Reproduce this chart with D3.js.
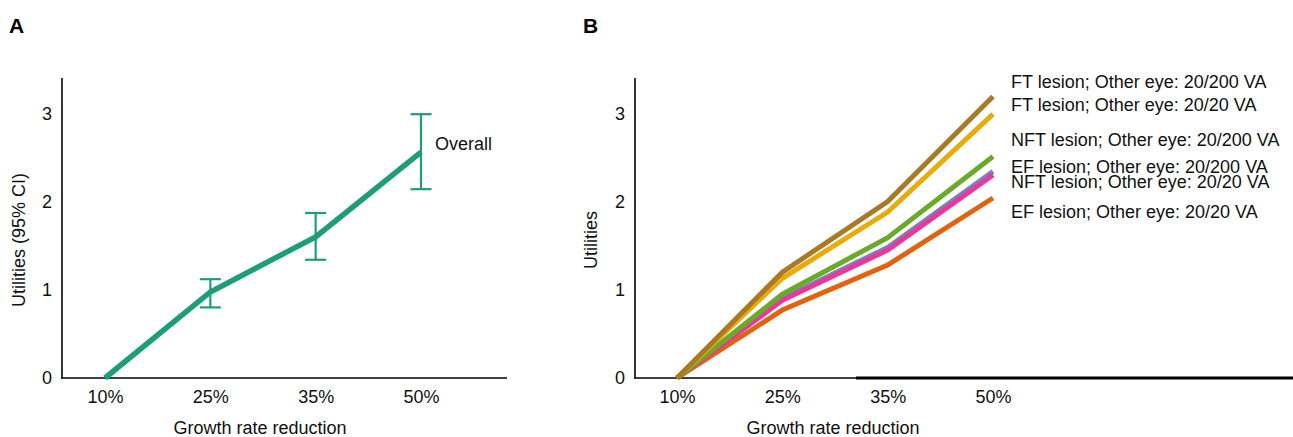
<!DOCTYPE html>
<html>
<head>
<meta charset="utf-8">
<script src="https://cdn.jsdelivr.net/npm/d3@7"></script>
<style>
  html, body { margin: 0; padding: 0; background: #fff; }
  svg { display: block; font-family: "Liberation Sans", Arial, sans-serif; }
</style>
</head>
<body>
<svg id="chart" width="1293" height="437"></svg>
<script>
// ---- data ----
const categories = ["10%", "25%", "35%", "50%"];
const yTicks = [0, 1, 2, 3];

const overall = [0, 0.975, 1.60, 2.56];
const overallLow = [null, 0.80, 1.34, 2.14];
const overallHigh = [null, 1.12, 1.87, 2.99];

const seriesNames = [
  "EF lesion; Other eye: 20/20 VA",
  "NFT lesion; Other eye: 20/200 VA",
  "NFT lesion; Other eye: 20/20 VA",
  "EF lesion; Other eye: 20/200 VA",
  "FT lesion; Other eye: 20/20 VA",
  "FT lesion; Other eye: 20/200 VA"
];
const efOther2020 = [0, 0.77, 1.28, 2.04];
const nftOther20200 = [0, 0.90, 1.48, 2.34];
const nftOther2020 = [0, 0.88, 1.45, 2.30];
const efOther20200 = [0, 0.95, 1.59, 2.51];
const ftOther2020 = [0, 1.13, 1.88, 2.99];
const ftOther20200 = [0, 1.20, 2.00, 3.19];
const seriesValues = [efOther2020, nftOther20200, nftOther2020, efOther20200, ftOther2020, ftOther20200];
const seriesColors = ["#E0640F", "#7B7FC0", "#E8389A", "#6AAA2A", "#E8AB0C", "#A87A24"];

// label stack order (top to bottom) and their vertical anchors in data units
const labelOrder = [
  "FT lesion; Other eye: 20/200 VA",
  "FT lesion; Other eye: 20/20 VA",
  "NFT lesion; Other eye: 20/200 VA",
  "EF lesion; Other eye: 20/200 VA",
  "NFT lesion; Other eye: 20/20 VA",
  "EF lesion; Other eye: 20/20 VA"
];
const labelLevels = [3.36, 3.10, 2.70, 2.40, 2.22, 1.88];

// ---- drawing ----
const svg = d3.select("#chart");
const FS = 18;
const y = d3.scaleLinear().domain([0, 3.4]).range([378, 78]);

function panel(axisX, axisEnd, xRange, thickFrom) {
  const g = svg.append("g");
  const x = d3.scalePoint().domain(categories).range(xRange);
  // y tick labels
  const ya = d3.axisLeft(y).tickValues(yTicks).tickSize(0).tickPadding(10).tickFormat(d3.format("d"));
  g.append("g").attr("transform", `translate(${axisX},0)`).call(ya)
    .call(s => s.select(".domain").remove())
    .call(s => s.selectAll("text").attr("font-size", FS).attr("font-family", "Liberation Sans, Arial, sans-serif").attr("fill", "#111"));
  // x tick labels
  const xa = d3.axisBottom(x).tickSize(0).tickPadding(12);
  g.append("g").attr("transform", `translate(0,378)`).call(xa)
    .call(s => s.select(".domain").remove())
    .call(s => s.selectAll("text").attr("font-size", FS).attr("font-family", "Liberation Sans, Arial, sans-serif").attr("fill", "#111"));
  // axis lines
  g.append("line").attr("x1", axisX).attr("x2", axisX).attr("y1", y(3.4)).attr("y2", 378.5)
    .attr("stroke", "#000").attr("stroke-width", 1.6);
  g.append("line").attr("x1", axisX - 0.8).attr("x2", axisEnd).attr("y1", 378).attr("y2", 378)
    .attr("stroke", "#000").attr("stroke-width", 1.6);
  if (thickFrom) {
    g.append("line").attr("x1", thickFrom).attr("x2", axisEnd).attr("y1", 378).attr("y2", 378)
      .attr("stroke", "#000").attr("stroke-width", 3);
  }
  return { g, x };
}

// Panel A
const A = panel(62, 507, [105, 421]);
const lineA = d3.line().x((d, i) => A.x(categories[i])).y(d => y(d));
A.g.append("path").datum(overall).attr("d", lineA)
  .attr("fill", "none").attr("stroke", "#1E9E78").attr("stroke-width", 5.5);
const ci = categories.map((c, i) => ({ c, lo: overallLow[i], hi: overallHigh[i] })).filter(d => d.lo != null);
const eb = A.g.selectAll(".eb").data(ci).enter().append("g");
eb.append("line").attr("x1", d => A.x(d.c)).attr("x2", d => A.x(d.c)).attr("y1", d => y(d.lo)).attr("y2", d => y(d.hi))
  .attr("stroke", "#1E9E78").attr("stroke-width", 2.2);
eb.append("line").attr("x1", d => A.x(d.c) - 10.5).attr("x2", d => A.x(d.c) + 10.5).attr("y1", d => y(d.lo)).attr("y2", d => y(d.lo))
  .attr("stroke", "#1E9E78").attr("stroke-width", 2.2);
eb.append("line").attr("x1", d => A.x(d.c) - 10.5).attr("x2", d => A.x(d.c) + 10.5).attr("y1", d => y(d.hi)).attr("y2", d => y(d.hi))
  .attr("stroke", "#1E9E78").attr("stroke-width", 2.2);
A.g.append("text").attr("x", A.x("50%") + 14).attr("y", y(overall[3]) - 8).attr("dy", "0.35em")
  .attr("font-size", FS).attr("fill", "#111").text("Overall");
A.g.append("text").attr("transform", "translate(19,240) rotate(-90)").attr("text-anchor", "middle").attr("dy", "0.35em")
  .attr("font-size", FS).attr("fill", "#111").text("Utilities (95% CI)");
A.g.append("text").attr("x", 260).attr("y", 428).attr("text-anchor", "middle").attr("dy", "0.35em")
  .attr("font-size", FS).attr("fill", "#111").text("Growth rate reduction");
svg.append("text").attr("x", 9).attr("y", 33).attr("font-size", 21).attr("font-weight", "bold").attr("fill", "#000").text("A");

// Panel B
const B = panel(635, 1293, [677, 993], 856);
const lineB = d3.line().x((d, i) => B.x(categories[i])).y(d => y(d));
B.g.selectAll(".ser").data(seriesValues).enter().append("path")
  .attr("d", d => lineB(d)).attr("fill", "none")
  .attr("stroke", (d, i) => seriesColors[i]).attr("stroke-width", 5);
B.g.selectAll(".lbl").data(labelOrder).enter().append("text")
  .attr("x", 1011).attr("y", (d, i) => y(labelLevels[i])).attr("dy", "0.35em")
  .attr("font-size", FS).attr("fill", "#111").text(d => d);
B.g.append("text").attr("transform", "translate(591,240) rotate(-90)").attr("text-anchor", "middle").attr("dy", "0.35em")
  .attr("font-size", FS).attr("fill", "#111").text("Utilities");
B.g.append("text").attr("x", 833).attr("y", 428).attr("text-anchor", "middle").attr("dy", "0.35em")
  .attr("font-size", FS).attr("fill", "#111").text("Growth rate reduction");
svg.append("text").attr("x", 583).attr("y", 33).attr("font-size", 21).attr("font-weight", "bold").attr("fill", "#000").text("B");
</script>
</body>
</html>
